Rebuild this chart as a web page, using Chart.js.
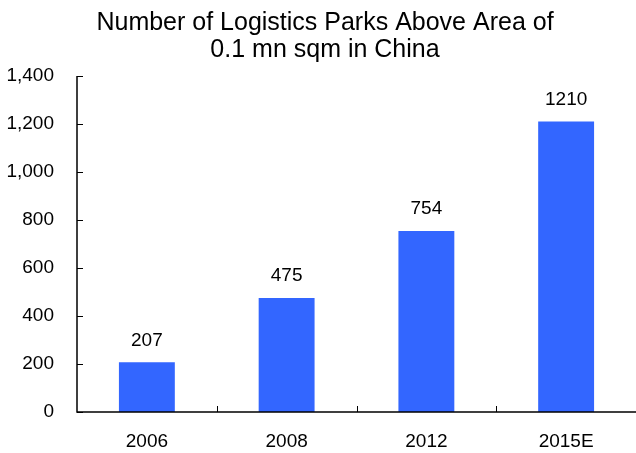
<!DOCTYPE html>
<html>
<head>
<meta charset="utf-8">
<script src="https://cdn.jsdelivr.net/npm/chart.js@4.4.1/dist/chart.umd.min.js"></script>
<style>
  html, body { margin: 0; padding: 0; background: #fff; }
  #wrap { width: 636px; height: 453px; }
</style>
</head>
<body>
<div id="wrap"><canvas id="chart" width="636" height="453"></canvas></div>
<script>
const years = ['2006', '2008', '2012', '2015E'];
const parks = [207, 475, 754, 1210];
const titleLines = ['Number of Logistics Parks Above Area of', '0.1 mn sqm in China'];

const FONT = '"Liberation Sans", Arial, sans-serif';

// axes, inner tick marks, value labels and title
const decorations = {
    id: 'decorations',
    afterDraw(chart) {
        const { ctx, chartArea: a, scales: { x, y } } = chart;
        ctx.save();
        ctx.strokeStyle = '#000';
        ctx.lineWidth = 1.5;
        ctx.beginPath();
        ctx.moveTo(a.left, a.top);
        ctx.lineTo(a.left, a.bottom);
        ctx.lineTo(a.right, a.bottom);
        ctx.stroke();

        ctx.lineWidth = 1;
        ctx.beginPath();
        y.ticks.forEach(t => {
            const py = Math.round(y.getPixelForValue(t.value)) + 0.5;
            ctx.moveTo(a.left, py);
            ctx.lineTo(a.left + 6, py);
        });
        const half = (x.getPixelForValue(1) - x.getPixelForValue(0)) / 2;
        for (let i = 1; i < years.length; i++) {
            const px = Math.round(x.getPixelForValue(i) - half) + 0.5;
            ctx.moveTo(px, a.bottom);
            ctx.lineTo(px, a.bottom - 6);
        }
        ctx.stroke();

        ctx.fillStyle = '#000';
        ctx.font = '19px ' + FONT;
        ctx.textAlign = 'center';
        ctx.textBaseline = 'middle';
        chart.getDatasetMeta(0).data.forEach((bar, i) => {
            ctx.fillText(String(parks[i]), bar.x, bar.y - 22);
        });

        ctx.font = '25px ' + FONT;
        titleLines.forEach((line, i) => ctx.fillText(line, 325, 23 + i * 27));
        ctx.restore();
    }
};

new Chart(document.getElementById('chart'), {
    type: 'bar',
    data: {
        labels: years,
        datasets: [{
            data: parks,
            backgroundColor: '#3366ff',
            categoryPercentage: 1,
            barPercentage: 0.4
        }]
    },
    options: {
        responsive: false,
        animation: false,
        layout: { padding: { top: 76, left: 0, right: 0, bottom: 0 } },
        scales: {
            y: {
                min: 0,
                max: 1400,
                afterFit: s => { s.width = 77; },
                grid: { display: false, drawTicks: false },
                border: { display: false },
                ticks: {
                    stepSize: 200,
                    padding: 23,
                    color: '#000',
                    font: { family: FONT, size: 19 },
                    callback: v => v.toLocaleString('en-US')
                }
            },
            x: {
                afterFit: s => { s.height = 41; },
                grid: { display: false, drawTicks: false },
                border: { display: false },
                ticks: {
                    padding: 18,
                    color: '#000',
                    font: { family: FONT, size: 19 }
                }
            }
        },
        plugins: {
            legend: { display: false },
            tooltip: { enabled: false }
        }
    },
    plugins: [decorations]
});
</script>
</body>
</html>
